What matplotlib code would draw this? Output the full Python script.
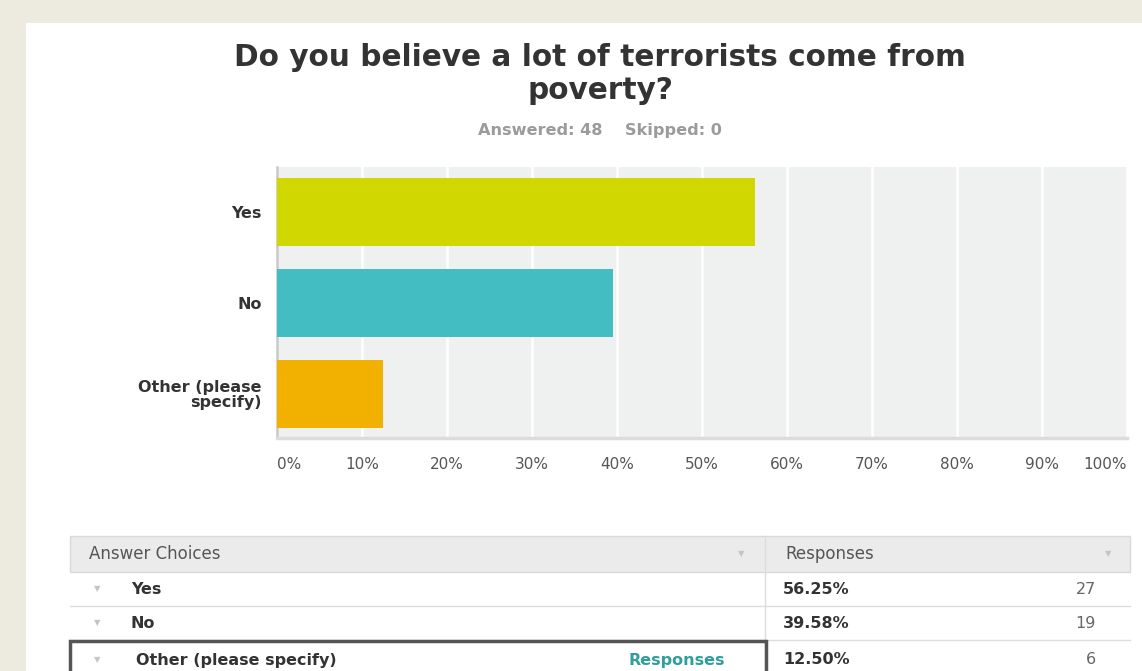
import matplotlib
matplotlib.use('Agg')
import matplotlib.pyplot as plt
from matplotlib.patches import Rectangle

# Survey results
choices = ['Yes', 'No', 'Other (please\nspecify)']
table_choices = ['Yes', 'No', 'Other (please specify)']
percents = [56.25, 39.58, 12.50]
counts = [27, 19, 6]
bar_colors = ['#d1d700', '#43bcc2', '#f2b100']
xticks = [0, 10, 20, 30, 40, 50, 60, 70, 80, 90, 100]
answered, skipped = 48, 0

W, H = 1142, 671
plt.rcParams['font.family'] = ['DejaVu Sans']

fig = plt.figure(figsize=(W / 100, H / 100), dpi=100)
fig.patch.set_facecolor('#edeae0')


def fx(x):
    return x / W


def fy(y):
    return 1 - y / H


# white card
fig.patches.append(Rectangle((fx(26), 0), 1 - fx(26), fy(23), transform=fig.transFigure,
                             facecolor='white', edgecolor='none', zorder=-10))

fig.text(fx(600), fy(74), 'Do you believe a lot of terrorists come from\npoverty?',
         ha='center', va='center', fontsize=21.3, fontweight='bold', color='#333333',
         linespacing=1.15)
fig.text(fx(600), fy(131), 'Answered: %d    Skipped: %d' % (answered, skipped),
         ha='center', va='center', fontsize=11.6, fontweight='bold', color='#9b9b9b')

# bar chart
ax = fig.add_axes([fx(277), fy(438), fx(1127) - fx(277), fy(167) - fy(438)])
ax.set_facecolor('#eff0f0')
ypos = list(range(len(choices)))
ax.barh(ypos, percents, height=0.75, color=bar_colors, zorder=3)
ax.set_xlim(0, 100)
ax.set_ylim(2.49, -0.5)
ax.set_xticks(xticks)
ax.xaxis.grid(True, color='white', linewidth=1.8, zorder=1)
ax.set_axisbelow(True)
ax.set_yticks(ypos)
ax.set_yticklabels(choices, fontsize=11.5, fontweight='bold', color='#333333', linespacing=1.0)
ax.tick_params(axis='y', length=0, pad=11)
ax.tick_params(axis='x', length=0, pad=14, labelsize=11, labelcolor='#555555')
ax.set_xticklabels(['%d%%' % t for t in xticks])
tl = ax.get_xticklabels()
tl[0].set_ha('left')
tl[-1].set_ha('right')
for s in ['top', 'right']:
    ax.spines[s].set_visible(False)
ax.spines['left'].set_color('#c8c8c8')
ax.spines['left'].set_linewidth(1.8)
ax.spines['bottom'].set_color('#dcdcdc')
ax.spines['bottom'].set_linewidth(2.5)

# results table
tx0, tx1, tdiv = 70, 1130, 765
fig.patches.append(Rectangle((fx(tx0), fy(572)), fx(tx1) - fx(tx0), fy(536) - fy(572),
                             transform=fig.transFigure, facecolor='#ebebeb',
                             edgecolor='#d9d9d9', linewidth=1, zorder=1))
fig.add_artist(plt.Line2D([fx(tdiv), fx(tdiv)], [0, fy(536)], transform=fig.transFigure,
                          color='#dddddd', linewidth=1, zorder=2))
for yl in [606, 640]:
    fig.add_artist(plt.Line2D([fx(tx0), fx(tx1)], [fy(yl), fy(yl)], transform=fig.transFigure,
                              color='#dddddd', linewidth=1, zorder=2))

tri = dict(ha='center', va='center', fontsize=6, color='#c4c4c4')
fig.text(fx(89), fy(554), 'Answer Choices', ha='left', va='center', fontsize=12, color='#555555')
fig.text(fx(741), fy(554), '\u25bc', **tri)
fig.text(fx(785), fy(554), 'Responses', ha='left', va='center', fontsize=12, color='#555555')
fig.text(fx(1108), fy(554), '\u25bc', **tri)

row_y = [589, 623, 660]
for name, pct, n, y in zip(table_choices, percents, counts, row_y):
    fig.text(fx(97), fy(y), '\u25bc', **tri)
    xoff = 136 if name.startswith('Other') else 131
    fig.text(fx(xoff), fy(y), name, ha='left', va='center', fontsize=11.5,
             fontweight='bold', color='#333333')
    fig.text(fx(783), fy(y), '%.2f%%' % pct, ha='left', va='center', fontsize=11.5,
             fontweight='bold', color='#333333')
    fig.text(fx(1096), fy(y), str(n), ha='right', va='center', fontsize=11.5, color='#666666')

fig.text(fx(725), fy(660), 'Responses', ha='right', va='center', fontsize=11.5,
         fontweight='bold', color='#2e9e9e')
# highlighted row outline
fig.patches.append(Rectangle((fx(70), fy(675)), fx(766) - fx(70), fy(641) - fy(675),
                             transform=fig.transFigure, facecolor='none',
                             edgecolor='#555555', linewidth=2.5, zorder=3))

fig.savefig('out.png', dpi=100, facecolor=fig.get_facecolor())
